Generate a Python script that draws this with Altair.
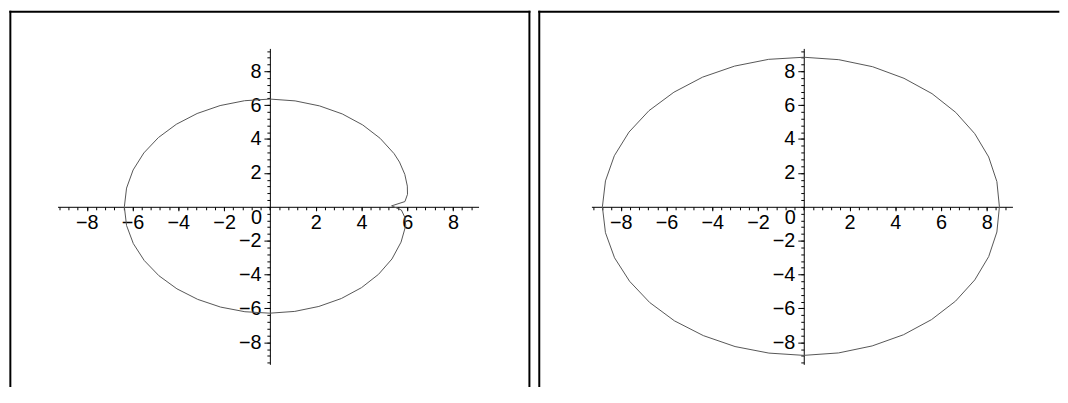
import altair as alt
import pandas as pd

# ---- data (polar samples: angle in degrees, radius) ----
left_theta = [0.6, 3, 7, 11.5, 18, 25, 30, 40, 50, 60, 70, 80, 90, 100, 110, 120,
              130, 140, 150, 160, 170, 180, 190, 200, 210, 220, 230, 240, 250, 260,
              270, 280, 290, 300, 310, 320, 330, 340, 349.4, 354, 358.1, 360.6]
left_r = [5.32, 5.91, 6.06, 6.13, 6.20, 6.25, 6.27, 6.29, 6.31, 6.33, 6.34, 6.35, 6.36, 6.36, 6.36, 6.36,
          6.36, 6.36, 6.36, 6.36, 6.36, 6.36, 6.36, 6.35, 6.34, 6.33, 6.32, 6.31, 6.30, 6.29,
          6.28, 6.27, 6.26, 6.25, 6.23, 6.20, 6.16, 6.10, 6.04, 5.93, 5.75, 5.32]

right_theta = [0, 10, 20, 30, 40, 50, 60, 70, 80, 90, 100, 110, 120, 130, 140, 150, 160, 170,
               180, 190, 200, 210, 220, 230, 240, 250, 260, 270, 280, 290, 300, 310, 320, 330,
               340, 350, 360]
right_r = [8.55, 8.57, 8.60, 8.63, 8.67, 8.72, 8.76, 8.80, 8.82, 8.83, 8.84, 8.84, 8.84, 8.83, 8.83,
           8.82, 8.81, 8.80, 8.80, 8.80, 8.80, 8.79, 8.79, 8.79, 8.78, 8.78, 8.77, 8.77, 8.76, 8.74,
           8.72, 8.69, 8.66, 8.63, 8.60, 8.57, 8.55]

major_ticks = [-8, -6, -4, -2, 2, 4, 6, 8]
minor_ticks = [round(-9.2 + 0.4 * k, 1) for k in range(47)]
zero_label = ["0"]

# ---- layout ----
FONT = "Liberation Sans"
FS = 20
PX, PY = 23.1, 17.1
XMIN, XMAX, YMIN, YMAX = -9.28, 9.12, -9.3, 9.35
W = (XMAX - XMIN) * PX
H = (YMAX - YMIN) * PY
XOFF = -(0 - YMIN) * PY
YOFF = -(0 - XMIN) * PX

L_VIEW_X, VIEW_Y = 271 + XMIN * PX, 206 - YMAX * PY
R_VIEW_X = 809 + XMIN * PX
SPACING = R_VIEW_X - (L_VIEW_X + W)
BOTTOM = 387


def make_axis(values, size, labels, orient, offset, domain):
    kw = dict(values=values, orient=orient, offset=offset, domain=domain,
              domainColor="black", domainWidth=1, ticks=True, tickColor="black",
              tickWidth=1, tickSize=size, grid=False, labels=labels, title="")
    if labels:
        kw.update(format="d", labelFont=FONT, labelFontSize=FS, labelColor="black",
                  labelFlush=False, labelOverlap=False,
                  labelPadding=2 if orient == "bottom" else 3)
    return alt.Axis(**kw)


def frame(x, x2, y, y2):
    return alt.Chart(alt.Data(values=[{}])).mark_rule(
        color="black", strokeWidth=2, strokeCap="square"
    ).encode(x=alt.value(x), x2=alt.value(x2), y=alt.value(y), y2=alt.value(y2))


def panel(theta, r, view_x, box_left, box_right, draw_right):
    df = pd.DataFrame({"i": list(range(len(theta))), "theta": theta, "r": r})
    xs = alt.Scale(domain=[XMIN, XMAX], nice=False, zero=False)
    ys = alt.Scale(domain=[YMIN, YMAX], nice=False, zero=False)
    curve = alt.Chart(df).transform_calculate(
        x="datum.r*cos(datum.theta*PI/180)",
        y="datum.r*sin(datum.theta*PI/180)",
    ).mark_line(color="#555555", strokeWidth=1).encode(
        x=alt.X("x:Q", scale=xs, axis=make_axis(major_ticks, 4, True, "bottom", XOFF, True)),
        y=alt.Y("y:Q", scale=ys, axis=make_axis(major_ticks, 6, True, "left", YOFF, True)),
        order="i:Q",
    )
    zdf = pd.DataFrame({"x": [0], "y": [0], "t": zero_label})
    zero = alt.Chart(zdf).mark_text(
        align="right", baseline="top", dx=-8, dy=1, font=FONT, fontSize=FS, color="black"
    ).encode(
        x=alt.X("x:Q", scale=xs, axis=make_axis(minor_ticks, 3, False, "bottom", XOFF, False)),
        y=alt.Y("y:Q", scale=ys, axis=make_axis(minor_ticks, 3, False, "left", YOFF, False)),
        text="t:N",
    )
    bl = box_left - view_x
    br = box_right - view_x
    top = 9 - VIEW_Y
    bot = BOTTOM - VIEW_Y
    layers = [frame(bl, bl, top, bot), frame(bl, br, top, top)]
    if draw_right:
        layers.append(frame(br, br, top, bot))
    layers += [curve, zero]
    return alt.layer(*layers).resolve_axis(x="independent", y="independent").properties(
        width=W, height=H
    )


left = panel(left_theta, left_r, L_VIEW_X, 9, 533, True)
right = panel(right_theta, right_r, R_VIEW_X, 542, 1066, False)

chart = alt.hconcat(left, right, spacing=SPACING, bounds="flush", padding=0).configure_view(
    strokeWidth=0
)

chart.save("out.html", embed_options={"renderer": "svg", "actions": False})
